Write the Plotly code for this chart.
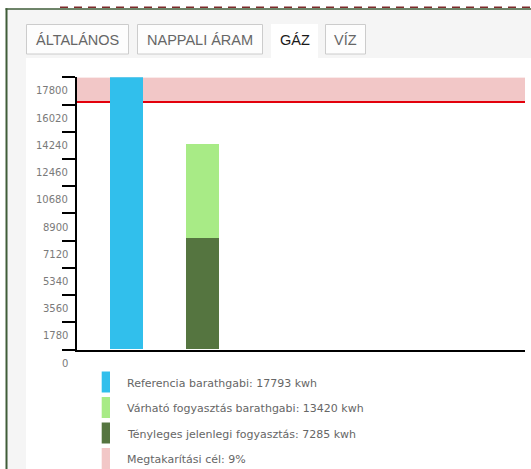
import plotly.graph_objects as go

# ---------------- data ----------------
categories = ["Referencia", "Aktuális"]
reference_value = [17793]
expected_value = [13420]
actual_value = [7285]
saving_target_pct = 9
tick_values = [0, 1780, 3560, 5340, 7120, 8900, 10680, 12460, 14240, 16020, 17800]
tab_labels = ["ÁLTALÁNOS", "NAPPALI ÁRAM", "GÁZ", "VÍZ"]
legend_labels = [
    "Referencia barathgabi: {} kwh".format(reference_value[0]),
    "Várható fogyasztás barathgabi: {} kwh".format(expected_value[0]),
    "Tényleges jelenlegi fogyasztás: {} kwh".format(actual_value[0]),
    "Megtakarítási cél: {}%".format(saving_target_pct),
]

# ---------------- styles ----------------
W, H = 531, 469
C_BLUE = "#31bfec"
C_LIGHT = "#a8eb86"
C_DARK = "#557540"
C_PINK = "#f2c7c7"
C_RED = "#e3000b"
legend_colors = [C_BLUE, C_LIGHT, C_DARK, C_PINK]

target = reference_value[0] * (100 - saving_target_pct) / 100.0
remaining = [e - a for e, a in zip(expected_value, actual_value)]


def px(x):
    return x / W


def py(y):
    return 1 - y / H


Y_DOM = [py(349.5), py(77.3)]
Y_MAX = tick_values[-1]


def y_to_paper(v):
    return Y_DOM[0] + v / Y_MAX * (Y_DOM[1] - Y_DOM[0])


fig = go.Figure()

bar_w = 0.44
fig.add_trace(go.Bar(x=[categories[0]], y=reference_value, marker_color=C_BLUE,
                     marker_line_width=0, width=bar_w, showlegend=False))
fig.add_trace(go.Bar(x=[categories[1]], y=actual_value, marker_color=C_DARK,
                     marker_line_width=0, width=bar_w, showlegend=False))
fig.add_trace(go.Bar(x=[categories[1]], y=remaining, marker_color=C_LIGHT,
                     marker_line_width=0, width=bar_w, showlegend=False))

shapes = []
# page frame / panels
shapes.append(dict(type="rect", xref="paper", yref="paper", x0=px(7), x1=px(W), y0=py(H), y1=py(9),
                   fillcolor="#f5f5f5", line_width=0, layer="below"))
shapes.append(dict(type="rect", xref="paper", yref="paper", x0=px(26), x1=px(W), y0=py(H), y1=py(58),
                   fillcolor="#ffffff", line_width=0, layer="below"))
shapes.append(dict(type="rect", xref="paper", yref="paper", x0=px(5.5), x1=px(7.5), y0=py(H), y1=py(8.3),
                   fillcolor="#3f5c38", line_width=0, layer="below"))
shapes.append(dict(type="rect", xref="paper", yref="paper", x0=px(5.5), x1=px(W), y0=py(9.8), y1=py(8.3),
                   fillcolor="#3f5c38", line_width=0, layer="below"))
shapes.append(dict(type="line", xref="paper", yref="paper", x0=px(60), x1=px(W), y0=py(7.2), y1=py(7.2),
                   line=dict(color="#7d2b2b", width=1.6, dash="8px,6px"), layer="below"))

# tabs
tab_boxes = [(26, 129), (137, 263), (271, 318), (325, 366)]
active_tab = 2
for i, (a, b) in enumerate(tab_boxes):
    if i == active_tab:
        shapes.append(dict(type="rect", xref="paper", yref="paper", x0=px(a), x1=px(b), y0=py(58.5), y1=py(24),
                           fillcolor="#ffffff", line_width=0, layer="below"))
    else:
        shapes.append(dict(type="rect", xref="paper", yref="paper", x0=px(a + 0.5), x1=px(b - 0.5),
                           y0=py(54), y1=py(24.5),
                           fillcolor="#fdfdfd", line=dict(color="#cccccc", width=1), layer="below"))

# target band and line
shapes.append(dict(type="rect", xref="x domain", yref="y", x0=0, x1=1, y0=target, y1=reference_value[0],
                   fillcolor=C_PINK, line_width=0, layer="below"))
shapes.append(dict(type="line", xref="x domain", yref="y", x0=0, x1=1, y0=target, y1=target,
                   line=dict(color=C_RED, width=2), layer="below"))

# legend swatches
row_y = [382, 407.5, 433, 458.5]
for c, yy in zip(legend_colors, row_y):
    shapes.append(dict(type="rect", xref="paper", yref="paper", x0=px(101.7), x1=px(110),
                       y0=py(yy + 10.5), y1=py(yy - 10.5), fillcolor=c, line_width=0, layer="above"))

annotations = []
# tab texts
for i, ((a, b), lab) in enumerate(zip(tab_boxes, tab_labels)):
    annotations.append(dict(xref="paper", yref="paper", x=px((a + b) / 2), y=py(40), text=lab,
                            showarrow=False, xanchor="center", yanchor="middle",
                            font=dict(family="Liberation Sans, Arial, sans-serif", size=14.5,
                                      color="#1a1a1a" if i == active_tab else "#666666")))
# y tick labels (placed half a step below each tick)
half = (tick_values[1] - tick_values[0]) / 2
for v in tick_values:
    annotations.append(dict(xref="paper", yref="paper", x=px(69.5), y=y_to_paper(v - half), text=str(v),
                            showarrow=False, xanchor="right", yanchor="middle",
                            font=dict(family="DejaVu Sans, Verdana, sans-serif", size=10, color="#7a7a7a")))
# legend texts
for lab, yy in zip(legend_labels, row_y):
    annotations.append(dict(xref="paper", yref="paper", x=px(124.7), y=py(yy + 1), text=lab,
                            showarrow=False, xanchor="left", yanchor="middle",
                            font=dict(family="DejaVu Sans, Verdana, sans-serif", size=11, color="#666666")))

fig.update_layout(
    width=W, height=H,
    margin=dict(l=0, r=0, t=0, b=0),
    paper_bgcolor="#ffffff",
    plot_bgcolor="rgba(0,0,0,0)",
    barmode="stack",
    bargap=0,
    showlegend=False,
    shapes=shapes,
    annotations=annotations,
    xaxis=dict(domain=[px(77), px(525)], type="category", range=[-0.6565, 5.2616],
               showgrid=False, zeroline=False, showticklabels=False, ticks="",
               showline=True, linecolor="#000000", linewidth=2, fixedrange=True),
    yaxis=dict(domain=Y_DOM, range=[0, Y_MAX],
               showgrid=False, zeroline=False, showticklabels=False,
               tickmode="array", tickvals=tick_values, ticks="outside", ticklen=13,
               tickwidth=2, tickcolor="#000000",
               showline=True, linecolor="#000000", linewidth=2, fixedrange=True),
)

fig.write_html("out.html", config={"displayModeBar": False},
               post_script="document.body.style.margin='0';document.body.style.overflow='hidden';")
